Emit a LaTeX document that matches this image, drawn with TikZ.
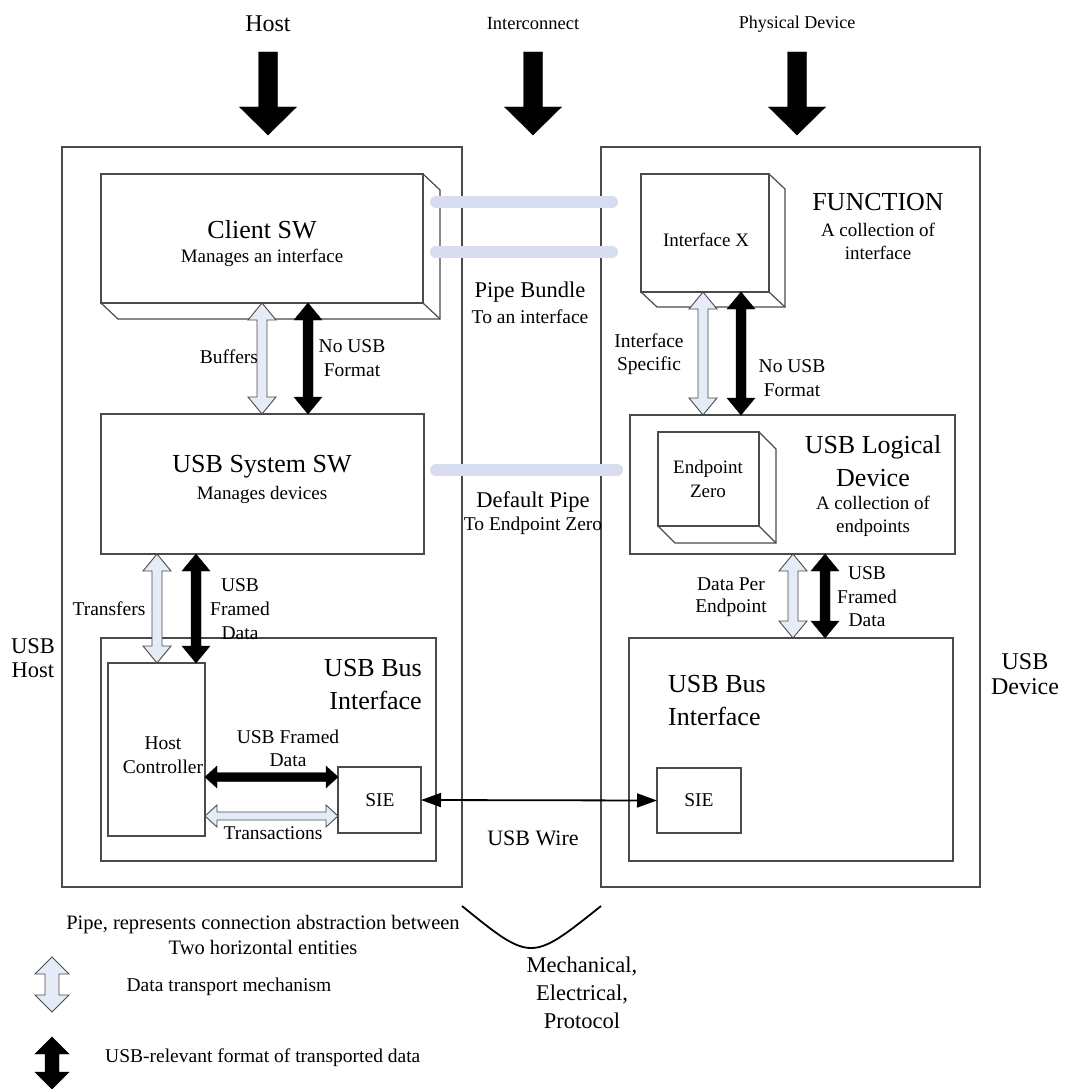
\documentclass[tikz,border=0pt]{standalone}
\usepackage{fontspec}
\setmainfont{Liberation Serif}
\usetikzlibrary{calc,arrows.meta}

\definecolor{boxline}{HTML}{4A4A4A}
\definecolor{lightfill}{HTML}{E6ECF7}
\definecolor{pipefill}{HTML}{D7DDEE}

% font size / baseline skip in one go
\newcommand{\fsz}[2]{\fontsize{#1}{#2}\selectfont}

% vertical double arrow: style, top, bottom, half shaft, half head, head length
\newcommand{\vdbl}[6]{%
  \draw[#1] (#2) -- ($(#2)+(#5,#6)$) -- ($(#2)+(#4,#6)$) -- ($(#3)+(#4,-#6)$)
    -- ($(#3)+(#5,-#6)$) -- (#3) -- ($(#3)+(-#5,-#6)$) -- ($(#3)+(-#4,-#6)$)
    -- ($(#2)+(-#4,#6)$) -- ($(#2)+(-#5,#6)$) -- cycle;}
% horizontal double arrow: style, left, right, half shaft, half head, head length
\newcommand{\hdbl}[6]{%
  \draw[#1] (#2) -- ($(#2)+(#6,-#5)$) -- ($(#2)+(#6,-#4)$) -- ($(#3)+(-#6,-#4)$)
    -- ($(#3)+(-#6,-#5)$) -- (#3) -- ($(#3)+(-#6,#5)$) -- ($(#3)+(-#6,#4)$)
    -- ($(#2)+(#6,#4)$) -- ($(#2)+(#6,#5)$) -- cycle;}
% single downward arrow: style, tail, tip, half shaft, half head, head length
\newcommand{\vsgl}[6]{%
  \draw[#1] ($(#2)+(-#4,0)$) -- ($(#2)+(#4,0)$) -- ($(#3)+(#4,-#6)$)
    -- ($(#3)+(#5,-#6)$) -- (#3) -- ($(#3)+(-#5,-#6)$) -- ($(#3)+(-#4,-#6)$) -- cycle;}
% side and bottom faces of a box drawn as a block
\newcommand{\extrude}[3]{%
  \draw[edge] (#1.north east) -- ++(#2,#3) -- ($(#1.south east)+(#2,#3)$)
    -- ($(#1.south west)+(#2,#3)$) -- (#1.south west);
  \draw[edge] (#1.south east) -- ++(#2,#3);}

\begin{document}
\begin{tikzpicture}[x=1pt,y=-1pt,
  edge/.style={draw=boxline, line width=1.2pt, line join=miter},
  box/.style={draw=boxline, line width=1.2pt, inner sep=0pt, outer sep=0pt,
              anchor=north west, fill=white},
  lbl/.style={inner sep=0pt, align=center},
  big/.style={lbl, font=\fsz{26}{33}},
  sub/.style={lbl, font=\fsz{19}{23}},
  small/.style={lbl, font=\fsz{19.5}{23.5}},
  mid/.style={lbl, font=\fsz{22.5}{28}},
  hollow/.style={fill=lightfill, draw=boxline, line width=0.9pt, line join=miter},
  solidarr/.style={fill=black, draw=black, line width=0.4pt, line join=miter},
  pipe/.style={draw=pipefill, line width=12pt, line cap=round},
  wire/.style={draw=black, line width=1.8pt,
               {Triangle[length=20pt,width=14pt]}-{Triangle[length=20pt,width=14pt]}}
]
\useasboundingbox (0,0) rectangle (1066,1089);

% ---- column headings and their arrows
\node[lbl, font=\fsz{24}{28}] (hHost) at (268,24) {Host};
\node[lbl, font=\fsz{18.5}{22}] (hInter) at (533,24) {Interconnect};
\node[lbl, font=\fsz{18}{22}] (hPhys) at (797,24) {Physical Device};
\coordinate (aHostT) at (268,52);  \coordinate (aHostB) at (268,135);
\coordinate (aInterT) at (533,52); \coordinate (aInterB) at (533,135);
\coordinate (aPhysT) at (797,52);  \coordinate (aPhysB) at (797,135);
\vsgl{solidarr}{aHostT}{aHostB}{9.5}{28.5}{28}
\vsgl{solidarr}{aInterT}{aInterB}{9.5}{28.5}{28}
\vsgl{solidarr}{aPhysT}{aPhysB}{9.5}{28.5}{28}

% ---- outer frames
\node[box, fill=none, minimum width=400pt, minimum height=740pt] (hostbox) at (62,147) {};
\node[box, fill=none, minimum width=379pt, minimum height=740pt] (devbox) at (601,147) {};

% ---- host side
\node[box, minimum width=322pt, minimum height=129pt] (client) at (101,174) {};
\extrude{client}{17}{16}
\node[big] (clientT) at (262,230) {Client SW};
\node[sub] (clientS) at (262,258) {Manages an interface};

\node[box, minimum width=323pt, minimum height=140pt] (syssw) at (101,414) {};
\node[big] (sysT) at (262,467) {USB System SW};
\node[sub] (sysS) at (262,495) {Manages devices};

\node[box, minimum width=335pt, minimum height=223pt] (hbus) at (101,638) {};
\node[big, align=right] (hbusT) at (373,685) {USB Bus\\Interface};
\node[box, minimum width=97pt, minimum height=173pt] (hc) at (108,663) {};
\node[small] (hcT) at (163,755) {Host\\Controller};
\node[box, minimum width=83pt, minimum height=66pt] (sieH) at (338,767) {};
\node[small] (sieHT) at (380,800) {SIE};

% ---- device side
\node[box, minimum width=128pt, minimum height=118pt] (ifx) at (641,174) {};
\extrude{ifx}{16}{15}
\node[sub] (ifxT) at (706,240) {Interface X};
\node[big] (funcT) at (878,202) {FUNCTION};
\node[sub] (funcS) at (878,241) {A collection of\\interface};

\node[box, minimum width=325pt, minimum height=139pt] (logdev) at (630,415) {};
\node[box, minimum width=101pt, minimum height=94pt] (ep0) at (658,432) {};
\extrude{ep0}{17}{17}
\node[sub, font=\fsz{19}{24}] (ep0T) at (708,479) {Endpoint\\Zero};
\node[big] (logT) at (873,461) {USB Logical\\Device};
\node[sub] (logS) at (873,516) {A collection of\\endpoints};

\node[box, minimum width=324pt, minimum height=223pt] (dbus) at (629,638) {};
\node[big, align=left, anchor=west] (dbusT) at (668,701) {USB Bus\\Interface};
\node[box, minimum width=84pt, minimum height=65pt] (sieD) at (657,768) {};
\node[small] (sieDT) at (699,800) {SIE};

% ---- pipes
\coordinate (p1a) at (436,202); \coordinate (p1b) at (612,202);
\coordinate (p2a) at (436,252); \coordinate (p2b) at (612,252);
\coordinate (p3a) at (436,470); \coordinate (p3b) at (617,470);
\draw[pipe] (p1a) -- (p1b);
\draw[pipe] (p2a) -- (p2b);
\draw[pipe] (p3a) -- (p3b);
\node[mid] (pbT) at (530,292) {Pipe Bundle};
\node[small] (pbS) at (530,317) {To an interface};
\node[mid] (dpT) at (533,502) {Default Pipe};
\node[small] (dpS) at (533,526) {To Endpoint Zero};

% ---- host side data paths
\coordinate (bufT) at (262,0 |- client.south);  \coordinate (bufB) at (262,0 |- syssw.north);
\coordinate (nufT) at (308,0 |- client.south);  \coordinate (nufB) at (308,0 |- syssw.north);
\vdbl{hollow}{bufT}{bufB}{5}{14}{17}
\vdbl{solidarr}{nufT}{nufB}{5}{14}{17}
\node[small] (bufL) at (229,357) {Buffers};
\node[small] (nufL) at (352,358) {No USB\\Format};

\coordinate (trT) at (157,0 |- syssw.south);  \coordinate (trB) at (157,0 |- hc.north);
\coordinate (frT) at (196,0 |- syssw.south);  \coordinate (frB) at (196,0 |- hc.north);
\vdbl{hollow}{trT}{trB}{5}{14}{17}
\vdbl{solidarr}{frT}{frB}{5}{14}{17}
\node[small] (trL) at (109,609) {Transfers};
\node[small, font=\fsz{19.5}{24}] (frL) at (240,609) {USB\\Framed\\Data};

\coordinate (hfL) at (hc.east |- 0,777);  \coordinate (hfR) at (sieH.west |- 0,777);
\coordinate (htL) at (hc.east |- 0,816);  \coordinate (htR) at (sieH.west |- 0,816);
\hdbl{solidarr}{hfL}{hfR}{4.5}{11}{12}
\hdbl{hollow}{htL}{htR}{4}{11}{12}
\node[small, font=\fsz{19.5}{23}] (hfT) at (288,748) {USB Framed\\Data};
\node[small] (htT) at (273,833) {Transactions};

% ---- device side data paths
\coordinate (isT) at (703,0 |- ifx.south);  \coordinate (isB) at (703,0 |- logdev.north);
\coordinate (inT) at (741,0 |- ifx.south);  \coordinate (inB) at (741,0 |- logdev.north);
\vdbl{hollow}{isT}{isB}{5}{14}{17}
\vdbl{solidarr}{inT}{inB}{5}{14}{17}
\node[small] (isL) at (649,354) {Interface\\Specific};
\node[small, font=\fsz{19.5}{24}] (inL) at (792,378) {No USB\\Format};

\coordinate (dpT2) at (793,0 |- logdev.south);  \coordinate (dpB2) at (793,0 |- dbus.north);
\coordinate (dfT) at (825,0 |- logdev.south);   \coordinate (dfB) at (825,0 |- dbus.north);
\vdbl{hollow}{dpT2}{dpB2}{5}{14}{17}
\vdbl{solidarr}{dfT}{dfB}{5}{14}{17}
\node[small, font=\fsz{19.5}{22}] (dpL) at (731,597) {Data Per\\Endpoint};
\node[small] (dfL) at (867,597) {USB\\Framed\\Data};

% ---- the wire
\draw[wire] (sieH.east) -- (sieD.west);
\node[mid, font=\fsz{22}{26}] (wireT) at (533,838) {USB Wire};

% ---- side captions
\node[mid, font=\fsz{22.5}{24}] (hostL) at (33,658) {USB\\Host};
\node[mid, font=\fsz{24}{25}] (devL) at (1025,674) {USB\\Device};

% ---- key
\coordinate (arcL) at (462,906); \coordinate (arcR) at (601,906);
\draw[black, line width=1.8pt] (arcL) .. controls (531,962) .. (arcR);
\node[lbl, font=\fsz{20.5}{25}] (keyPipe) at (263,935) {Pipe, represents connection abstraction between\\Two horizontal entities};
\node[mid] (keyMech) at (582,993) {Mechanical,\\Electrical,\\Protocol};
\coordinate (k1T) at (52,957);  \coordinate (k1B) at (52,1012);
\coordinate (k2T) at (52,1037); \coordinate (k2B) at (52,1089);
\vdbl{hollow}{k1T}{k1B}{7}{17}{17}
\vdbl{solidarr}{k2T}{k2B}{7}{17}{17}
\node[small] (keyData) at (229,987) {Data transport mechanism};
\node[small, anchor=west] (keyFmt) at (105,1058) {USB-relevant format of transported data};
\end{tikzpicture}
\end{document}
